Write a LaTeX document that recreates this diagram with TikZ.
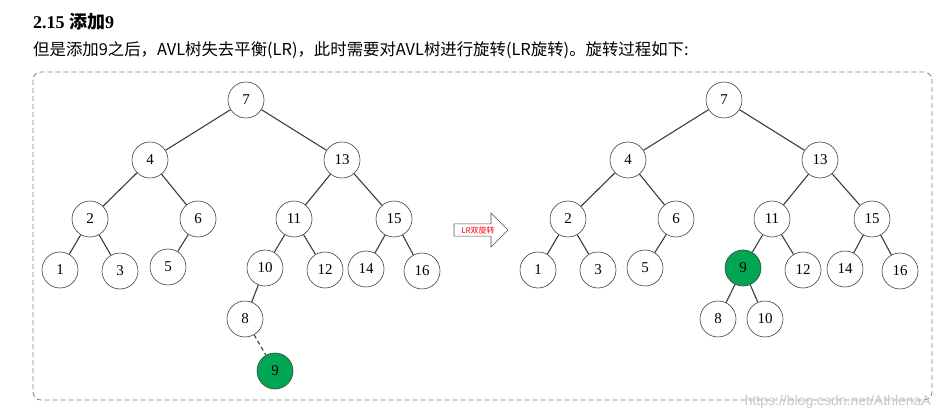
\documentclass[tikz,border=0pt]{standalone}
\usepackage{fontspec}
\setmainfont{Liberation Serif}
\newfontfamily\cjk{Noto Sans CJK SC}
\newfontfamily\wmfont{Liberation Sans}
\usetikzlibrary{shapes.arrows}
\definecolor{avlgreen}{RGB}{0,166,81}
\definecolor{edgegray}{RGB}{60,60,60}
\definecolor{boxgray}{RGB}{130,130,130}
\tikzset{
  tn/.style={circle,draw=black!75,line width=0.6pt,minimum size=36pt,inner sep=0pt,fill=white,font=\fontsize{15}{15}\selectfont},
  gn/.style={tn,fill=avlgreen},
  ed/.style={draw=edgegray,line width=1.1pt},
  ded/.style={ed,dashed,dash pattern=on 4pt off 3pt}
}
\begin{document}
\begin{tikzpicture}[x=1pt,y=-1pt]
\useasboundingbox (0,0) rectangle (941,419);
% title
\node[anchor=base west,inner sep=0pt] (title) at (33,29) {\fontsize{18}{18}\selectfont\bfseries 2.15 {\cjk\bfseries 添加}9};
\node[anchor=base west,inner sep=0pt] (sub) at (33,56) {\cjk\fontsize{16.4}{17}\selectfont 但是添加9之后，AVL树失去平衡(LR)，此时需要对AVL树进行旋转(LR旋转)。旋转过程如下:};
% frame
\draw[boxgray,line width=0.8pt,dash pattern=on 5pt off 3pt,rounded corners=8pt] (33,72) rectangle (932,400);
% left tree
\node[tn] (a7) at (246,100) {7};
\node[tn] (a4) at (150,160) {4};
\node[tn] (a13) at (342,160) {13};
\node[tn] (a2) at (90,219) {2};
\node[tn] (a6) at (198,219) {6};
\node[tn] (a11) at (294,219) {11};
\node[tn] (a15) at (394,219) {15};
\node[tn] (a1) at (60,270) {1};
\node[tn] (a3) at (120,271) {3};
\node[tn] (a5) at (168,267) {5};
\node[tn] (a10) at (265,268) {10};
\node[tn] (a12) at (325,270) {12};
\node[tn] (a14) at (366,269) {14};
\node[tn] (a16) at (422,271) {16};
\node[tn] (a8) at (245,319) {8};
\node[gn] (a9) at (275,371) {9};
\foreach \u/\v in {a7/a4,a7/a13,a4/a2,a4/a6,a13/a11,a13/a15,a2/a1,a2/a3,a6/a5,a11/a10,a11/a12,a15/a14,a15/a16,a10/a8}
  \draw[ed] (\u) -- (\v);
\draw[ded] (a8) -- (a9);
% arrow
\node[single arrow,draw=black!70,line width=0.6pt,fill=white,minimum height=54pt,minimum width=34pt,single arrow head extend=9pt,inner sep=1pt,anchor=center] (arr) at (478,230) {\cjk\fontsize{8}{8}\selectfont\color{red}LR双旋转\hspace{8pt}};
% right tree
\node[tn] (b7) at (724,100) {7};
\node[tn] (b4) at (628,160) {4};
\node[tn] (b13) at (820,160) {13};
\node[tn] (b2) at (568,219) {2};
\node[tn] (b6) at (676,219) {6};
\node[tn] (b11) at (772,219) {11};
\node[tn] (b15) at (872,219) {15};
\node[tn] (b1) at (538,270) {1};
\node[tn] (b3) at (598,270) {3};
\node[tn] (b5) at (645,268) {5};
\node[gn] (b9) at (743,268) {9};
\node[tn] (b12) at (803,270) {12};
\node[tn] (b14) at (845,269) {14};
\node[tn] (b16) at (900,271) {16};
\node[tn] (b8) at (718,319) {8};
\node[tn] (b10) at (765,319) {10};
\foreach \u/\v in {b7/b4,b7/b13,b4/b2,b4/b6,b13/b11,b13/b15,b2/b1,b2/b3,b6/b5,b11/b9,b11/b12,b15/b14,b15/b16,b9/b8,b9/b10}
  \draw[ed] (\u) -- (\v);
% watermark
\node[anchor=base east,inner sep=0pt,text=black!22] (wm) at (931,405) {\wmfont\fontsize{14}{14}\selectfont https://blog.csdn.net/AthlenaA};
\end{tikzpicture}
\end{document}
